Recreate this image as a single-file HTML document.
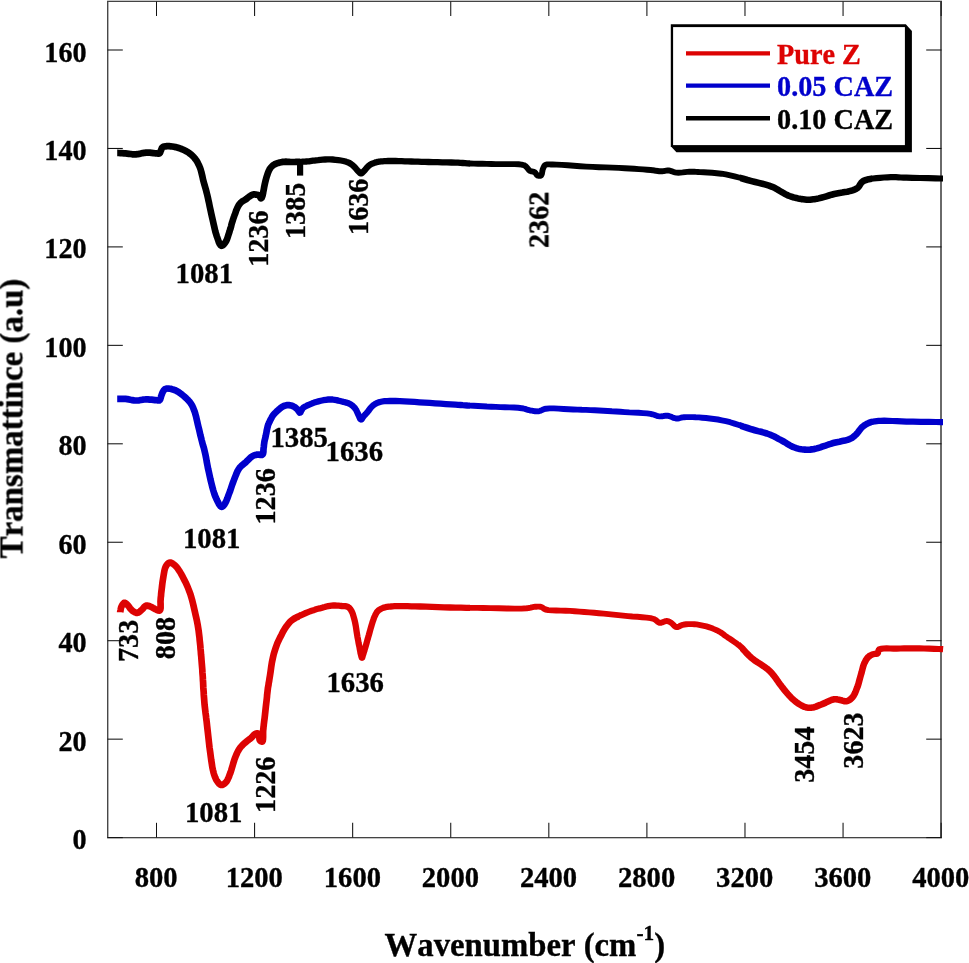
<!DOCTYPE html>
<html><head><meta charset="utf-8"><title>FTIR</title>
<style>html,body{margin:0;padding:0;background:#fff;}body{width:969px;height:963px;position:relative;overflow:hidden;font-family:"Liberation Serif",serif;}</style>
</head><body>
<svg width="969" height="963" viewBox="0 0 969 963" style="position:absolute;left:0;top:0">
<rect width="969" height="963" fill="#fff"/>
<g shape-rendering="crispEdges">
<rect x="107" y="0" width="1" height="838" fill="#484848"/><rect x="108" y="0" width="1" height="838" fill="#b4b4b4"/>
<rect x="940" y="0" width="2" height="838" fill="#6a6a6a"/>
<rect x="107" y="837" width="835" height="1" fill="#444"/><rect x="107" y="838" width="835" height="1" fill="#c4c4c4"/>
<rect x="107" y="0" width="835" height="1" fill="#c6c6c6"/><rect x="107" y="1" width="835" height="1" fill="#444"/>
</g>
<g stroke="#111" stroke-width="1.05">
<path d="M156.50 837.5 V822.8"/>
<path d="M156.50 1.5 V16"/>
<path d="M254.58 837.5 V822.8"/>
<path d="M254.58 1.5 V16"/>
<path d="M352.66 837.5 V822.8"/>
<path d="M352.66 1.5 V16"/>
<path d="M450.74 837.5 V822.8"/>
<path d="M450.74 1.5 V16"/>
<path d="M548.82 837.5 V822.8"/>
<path d="M548.82 1.5 V16"/>
<path d="M646.90 837.5 V822.8"/>
<path d="M646.90 1.5 V16"/>
<path d="M744.98 837.5 V822.8"/>
<path d="M744.98 1.5 V16"/>
<path d="M843.06 837.5 V822.8"/>
<path d="M843.06 1.5 V16"/>
<path d="M941.14 837.5 V822.8"/>
<path d="M941.14 1.5 V16"/>
<path d="M107.5 837.60 H122.8"/>
<path d="M941.5 837.60 H926.2"/>
<path d="M107.5 739.15 H122.8"/>
<path d="M941.5 739.15 H926.2"/>
<path d="M107.5 640.70 H122.8"/>
<path d="M941.5 640.70 H926.2"/>
<path d="M107.5 542.25 H122.8"/>
<path d="M941.5 542.25 H926.2"/>
<path d="M107.5 443.80 H122.8"/>
<path d="M941.5 443.80 H926.2"/>
<path d="M107.5 345.35 H122.8"/>
<path d="M941.5 345.35 H926.2"/>
<path d="M107.5 246.90 H122.8"/>
<path d="M941.5 246.90 H926.2"/>
<path d="M107.5 148.45 H122.8"/>
<path d="M941.5 148.45 H926.2"/>
<path d="M107.5 50.00 H122.8"/>
<path d="M941.5 50.00 H926.2"/>
</g>
<defs><clipPath id="c0"><rect x="0" y="0" width="300" height="963"/></clipPath><clipPath id="c1"><rect x="300" y="0" width="170" height="963"/></clipPath><clipPath id="c2"><rect x="470" y="0" width="270" height="963"/></clipPath><clipPath id="c3"><rect x="740" y="0" width="132" height="963"/></clipPath><clipPath id="c4"><rect x="872" y="0" width="97" height="963"/></clipPath></defs>
<defs><path id="cv0" d="M120.2 612.2 L120.2 611.9 L120.4 611.1 L120.6 610.0 L120.8 608.7 L121.1 607.5 L121.5 606.5 L121.9 605.7 L122.3 604.9 L122.9 604.2 L123.4 603.5 L123.9 603.0 L124.5 602.8 L125.1 602.9 L125.7 603.2 L126.3 603.7 L126.9 604.3 L127.5 604.9 L128.0 605.5 L128.5 606.1 L129.0 606.7 L129.4 607.4 L129.9 608.0 L130.3 608.6 L130.8 609.2 L131.3 609.7 L131.8 610.2 L132.3 610.7 L132.9 611.1 L133.4 611.5 L134.0 611.8 L134.6 612.1 L135.1 612.4 L135.7 612.6 L136.3 612.8 L136.9 612.8 L137.5 612.8 L138.2 612.6 L138.8 612.2 L139.5 611.7 L140.2 611.2 L140.8 610.6 L141.5 610.0 L142.3 609.3 L143.1 608.4 L143.8 607.5 L144.6 606.6 L145.4 606.0 L146.3 605.6 L147.1 605.5 L148.0 605.7 L148.9 606.0 L149.8 606.3 L150.7 606.7 L151.5 607.1 L152.3 607.5 L153.0 607.9 L153.8 608.3 L154.5 608.8 L155.3 609.2 L156.0 609.5 L156.7 609.8 L157.4 610.1 L158.1 610.4 L158.7 610.5 L159.3 610.6 L159.8 610.4 L160.3 609.5 L160.6 608.0 L160.6 606.1 L160.6 603.9 L160.5 601.8 L160.6 600.0 L160.7 598.6 L160.8 597.2 L161.0 595.9 L161.1 594.5 L161.2 593.1 L161.4 591.5 L161.7 589.1 L162.0 586.5 L162.3 583.8 L162.7 581.0 L163.1 578.4 L163.5 576.0 L163.8 574.2 L164.1 572.5 L164.4 570.8 L164.8 569.2 L165.2 567.8 L165.8 566.5 L166.3 565.6 L166.9 564.7 L167.6 563.9 L168.3 563.3 L169.0 562.8 L169.7 562.5 L170.3 562.5 L170.9 562.7 L171.6 563.0 L172.2 563.3 L172.9 563.8 L173.5 564.2 L174.2 564.7 L174.9 565.3 L175.5 565.9 L176.2 566.6 L176.8 567.3 L177.5 568.2 L178.6 569.8 L179.8 571.6 L181.0 573.6 L182.2 575.8 L183.3 578.0 L184.4 580.1 L185.5 582.2 L186.5 584.4 L187.5 586.6 L188.4 588.9 L189.3 591.2 L190.2 593.6 L191.1 596.5 L192.0 599.6 L192.8 602.8 L193.6 606.1 L194.3 609.2 L195.0 612.3 L195.6 615.0 L196.2 617.6 L196.8 620.2 L197.3 622.8 L197.8 625.4 L198.2 628.0 L198.6 630.5 L198.9 633.0 L199.2 635.5 L199.5 637.9 L199.7 640.4 L200.0 643.0 L200.3 645.8 L200.5 648.6 L200.8 651.5 L201.0 654.4 L201.3 657.2 L201.5 660.0 L201.7 662.5 L201.9 664.9 L202.1 667.3 L202.3 669.7 L202.4 672.2 L202.6 674.6 L202.8 677.1 L202.9 679.7 L203.1 682.3 L203.2 684.9 L203.3 687.4 L203.5 690.0 L203.7 692.5 L203.8 695.0 L204.0 697.4 L204.2 699.9 L204.4 702.4 L204.6 704.9 L204.9 707.5 L205.2 710.1 L205.5 712.7 L205.9 715.4 L206.2 718.2 L206.6 721.2 L207.1 725.9 L207.7 731.1 L208.3 736.5 L208.9 742.0 L209.5 747.4 L210.2 752.3 L210.7 756.1 L211.2 759.9 L211.8 763.6 L212.3 767.1 L213.0 770.3 L213.7 773.1 L214.2 774.8 L214.7 776.3 L215.3 777.7 L215.9 779.0 L216.5 780.2 L217.2 781.3 L217.8 782.1 L218.4 782.9 L219.1 783.7 L219.8 784.3 L220.5 784.8 L221.2 785.0 L222.0 785.0 L222.8 784.7 L223.6 784.2 L224.5 783.6 L225.3 782.9 L226.0 782.2 L226.9 781.1 L227.6 779.7 L228.3 778.2 L229.0 776.6 L229.6 774.8 L230.3 773.1 L231.1 770.7 L231.9 768.1 L232.7 765.3 L233.5 762.5 L234.3 759.9 L235.2 757.5 L235.9 755.8 L236.6 754.1 L237.3 752.5 L238.1 751.0 L238.9 749.6 L239.8 748.2 L240.7 747.0 L241.8 745.9 L242.8 744.8 L243.9 743.8 L245.0 742.8 L246.1 741.9 L247.0 741.1 L247.9 740.4 L248.8 739.8 L249.6 739.1 L250.5 738.5 L251.3 737.8 L252.0 737.1 L252.7 736.3 L253.4 735.5 L254.0 734.8 L254.7 734.2 L255.4 733.8 L255.9 733.6 L256.5 733.5 L257.1 733.4 L257.6 733.4 L258.1 733.6 L258.5 733.8 L258.9 734.5 L259.2 735.7 L259.3 737.0 L259.4 738.4 L259.6 739.7 L260.0 740.5 L260.3 740.8 L260.7 741.2 L261.2 741.4 L261.6 741.6 L262.0 741.6 L262.3 741.5 L262.8 740.6 L263.0 739.0 L263.1 736.8 L263.1 734.4 L263.1 732.0 L263.2 730.0 L263.4 728.5 L263.5 727.1 L263.7 725.8 L263.8 724.4 L264.0 722.9 L264.2 721.2 L264.6 718.2 L265.0 714.7 L265.4 710.9 L265.8 707.1 L266.2 703.6 L266.6 700.4 L266.8 698.5 L267.0 696.7 L267.1 695.0 L267.3 693.4 L267.5 691.7 L267.7 690.0 L267.9 688.2 L268.2 686.5 L268.5 684.8 L268.7 683.1 L269.1 681.2 L269.4 679.1 L270.0 675.5 L270.6 671.4 L271.2 667.0 L271.9 662.5 L272.8 658.2 L273.7 654.3 L274.6 651.3 L275.5 648.4 L276.5 645.6 L277.5 642.9 L278.7 640.3 L280.0 637.6 L281.5 634.8 L283.0 631.8 L284.7 628.9 L286.5 626.2 L288.4 623.7 L290.3 621.6 L291.9 620.2 L293.6 619.0 L295.3 618.0 L297.1 617.1 L298.8 616.3 L300.6 615.4 L302.3 614.6 L304.0 613.8 L305.8 613.0 L307.5 612.3 L309.3 611.6 L311.0 611.0 L312.7 610.4 L314.4 609.9 L316.1 609.3 L317.9 608.8 L319.6 608.4 L321.3 607.9 L323.0 607.4 L324.7 607.0 L326.4 606.5 L328.2 606.1 L329.9 605.8 L331.6 605.6 L333.3 605.5 L335.1 605.5 L336.9 605.6 L338.7 605.7 L340.3 605.8 L341.9 606.0 L343.1 606.1 L344.2 606.2 L345.3 606.2 L346.3 606.4 L347.2 606.6 L348.1 607.0 L348.8 607.5 L349.4 608.0 L350.0 608.7 L350.5 609.4 L351.0 610.2 L351.5 611.0 L352.2 612.4 L352.8 613.9 L353.3 615.6 L353.8 617.4 L354.3 619.2 L354.8 621.1 L355.3 623.5 L355.8 626.1 L356.2 628.8 L356.6 631.5 L357.0 634.1 L357.4 636.6 L357.8 638.6 L358.2 640.6 L358.5 642.6 L358.9 644.5 L359.3 646.3 L359.6 648.0 L359.8 649.3 L360.1 650.6 L360.3 651.8 L360.5 653.0 L360.8 654.0 L361.0 655.0 L361.2 655.6 L361.3 656.2 L361.5 656.8 L361.7 657.3 L361.8 657.7 L362.0 657.8 L362.2 657.7 L362.3 657.3 L362.5 656.8 L362.6 656.2 L362.8 655.6 L363.0 655.0 L363.3 654.1 L363.6 653.1 L363.9 652.0 L364.3 650.9 L364.6 649.7 L365.0 648.5 L365.5 646.9 L366.0 645.2 L366.5 643.4 L367.0 641.5 L367.5 639.7 L368.0 638.0 L368.4 636.5 L368.9 634.9 L369.3 633.4 L369.7 631.9 L370.1 630.5 L370.5 629.0 L370.9 627.6 L371.3 626.3 L371.7 624.9 L372.1 623.6 L372.5 622.3 L372.9 621.1 L373.3 620.0 L373.7 618.9 L374.0 617.9 L374.4 616.9 L374.9 615.9 L375.3 615.0 L375.7 614.2 L376.1 613.5 L376.5 612.8 L376.9 612.1 L377.4 611.5 L378.0 610.9 L378.8 610.2 L379.7 609.6 L380.7 609.0 L381.7 608.5 L382.8 608.0 L384.0 607.6 L385.5 607.2 L387.1 606.9 L388.8 606.6 L390.6 606.5 L392.5 606.3 L394.5 606.2 L397.5 606.1 L400.7 606.1 L404.0 606.1 L407.6 606.2 L411.3 606.3 L415.1 606.4 L420.4 606.5 L426.1 606.7 L432.0 606.9 L438.1 607.1 L444.1 607.3 L450.0 607.5 L455.5 607.6 L461.0 607.7 L466.4 607.8 L471.9 607.9 L477.5 607.9 L483.3 608.0 L490.6 608.1 L498.7 608.3 L506.9 608.5 L514.7 608.6 L521.5 608.6 L526.7 608.3 L528.3 608.1 L529.6 607.8 L530.7 607.6 L531.7 607.3 L532.8 607.1 L533.9 606.9 L535.1 606.8 L536.4 606.7 L537.6 606.6 L538.9 606.6 L540.0 606.7 L541.1 606.9 L541.9 607.2 L542.5 607.6 L543.1 608.1 L543.8 608.6 L544.5 609.1 L545.5 609.5 L548.4 610.1 L552.1 610.4 L556.3 610.5 L560.9 610.6 L565.6 610.7 L570.0 610.9 L574.7 611.2 L579.5 611.6 L584.3 612.0 L589.2 612.4 L594.1 612.8 L598.9 613.2 L603.7 613.6 L608.6 614.1 L613.4 614.6 L618.3 615.1 L623.1 615.6 L627.8 616.1 L632.4 616.5 L637.3 616.8 L642.1 617.2 L646.6 617.6 L650.6 618.2 L653.8 619.0 L655.1 619.6 L656.1 620.4 L657.0 621.1 L657.8 621.9 L658.6 622.5 L659.6 622.8 L660.8 622.8 L662.0 622.5 L663.2 622.0 L664.5 621.5 L665.7 621.1 L666.8 621.0 L667.6 621.1 L668.4 621.3 L669.1 621.6 L669.8 622.0 L670.5 622.4 L671.2 622.8 L672.1 623.5 L672.9 624.3 L673.7 625.2 L674.6 626.1 L675.5 626.7 L676.4 627.1 L677.4 627.1 L678.3 626.8 L679.3 626.3 L680.4 625.7 L681.5 625.2 L682.7 624.8 L684.4 624.5 L686.2 624.3 L688.2 624.1 L690.2 624.1 L692.3 624.1 L694.3 624.2 L696.6 624.4 L699.1 624.8 L701.5 625.3 L704.0 625.8 L706.4 626.4 L708.7 627.1 L710.7 627.8 L712.8 628.6 L714.7 629.4 L716.6 630.2 L718.4 631.1 L720.0 632.0 L721.1 632.6 L722.0 633.3 L722.9 633.9 L723.8 634.6 L724.7 635.3 L725.8 636.1 L727.7 637.4 L729.8 638.7 L732.0 640.2 L734.3 641.8 L736.5 643.4 L738.7 645.1 L740.9 647.1 L743.0 649.2 L745.0 651.4 L747.1 653.7 L749.3 655.9 L751.6 658.0 L754.4 660.2 L757.5 662.3 L760.7 664.3 L763.9 666.4 L766.9 668.6 L769.7 671.0 L772.1 673.6 L774.4 676.4 L776.5 679.3 L778.5 682.2 L780.6 685.1 L782.6 687.7 L784.3 689.8 L786.0 691.9 L787.7 693.9 L789.4 695.8 L791.1 697.6 L792.9 699.3 L794.6 700.7 L796.3 702.1 L798.0 703.4 L799.8 704.5 L801.5 705.5 L803.2 706.3 L804.5 706.8 L805.8 707.2 L807.0 707.5 L808.3 707.7 L809.6 707.8 L810.9 707.8 L812.5 707.6 L814.2 707.2 L816.0 706.6 L817.7 705.9 L819.5 705.2 L821.3 704.5 L823.4 703.6 L825.7 702.6 L828.0 701.5 L830.2 700.5 L832.3 699.7 L834.2 699.3 L835.3 699.2 L836.3 699.3 L837.2 699.4 L838.1 699.6 L839.0 699.8 L840.0 700.0 L841.1 700.2 L842.3 700.6 L843.4 700.9 L844.6 701.2 L845.7 701.3 L846.8 701.2 L847.8 700.9 L848.8 700.4 L849.8 699.7 L850.8 699.0 L851.7 698.1 L852.5 697.2 L853.4 696.0 L854.2 694.6 L855.0 693.1 L855.7 691.5 L856.3 689.8 L857.0 688.1 L857.8 686.0 L858.5 683.8 L859.1 681.4 L859.7 679.1 L860.4 676.7 L861.0 674.5 L861.6 672.5 L862.1 670.5 L862.6 668.5 L863.1 666.6 L863.7 664.8 L864.4 663.1 L865.0 661.9 L865.6 660.7 L866.2 659.6 L866.9 658.6 L867.6 657.7 L868.4 656.9 L869.2 656.2 L870.2 655.6 L871.2 655.1 L872.1 654.7 L873.1 654.3 L874.0 654.0 L874.6 653.9 L875.3 653.9 L875.9 653.9 L876.5 653.9 L877.0 653.8 L877.5 653.6 L877.9 653.1 L878.1 652.4 L878.2 651.6 L878.4 650.8 L878.7 650.1 L879.2 649.5 L881.0 648.8 L883.6 648.5 L886.7 648.4 L890.1 648.5 L893.5 648.6 L896.8 648.6 L900.4 648.5 L904.1 648.4 L907.9 648.4 L911.8 648.4 L915.7 648.4 L919.5 648.4 L924.0 648.5 L929.1 648.7 L934.2 648.8 L938.7 649.0 L941.9 649.1 L943.1 649.2"/></defs>
<g fill="none" stroke="#dd0303" stroke-linejoin="round" stroke-linecap="butt">
<use href="#cv0" stroke-width="6.7" clip-path="url(#c0)"/>
<use href="#cv0" stroke-width="6.3" clip-path="url(#c1)"/>
<use href="#cv0" stroke-width="5.9" clip-path="url(#c2)"/>
<use href="#cv0" stroke-width="6.6" clip-path="url(#c3)"/>
<use href="#cv0" stroke-width="6.2" clip-path="url(#c4)"/>
</g>
<defs><path id="cv1" d="M117.2 398.9 L117.6 398.9 L118.7 398.9 L120.3 398.8 L122.1 398.8 L123.9 398.8 L125.5 398.9 L127.2 399.1 L128.9 399.4 L130.6 399.8 L132.3 400.1 L134.1 400.4 L135.8 400.5 L137.5 400.5 L139.2 400.3 L140.9 400.0 L142.7 399.7 L144.4 399.5 L146.1 399.4 L147.9 399.4 L149.7 399.6 L151.6 399.7 L153.4 399.9 L155.0 400.1 L156.4 400.2 L157.1 400.3 L157.7 400.3 L158.2 400.4 L158.7 400.5 L159.2 400.4 L159.6 400.2 L160.0 399.8 L160.3 399.1 L160.5 398.4 L160.8 397.6 L161.0 396.7 L161.2 396.0 L161.5 395.3 L161.7 394.6 L162.0 393.9 L162.2 393.3 L162.5 392.6 L162.8 392.0 L163.1 391.5 L163.4 391.0 L163.7 390.5 L164.0 390.0 L164.4 389.6 L164.8 389.3 L165.2 389.0 L165.7 388.9 L166.2 388.7 L166.7 388.6 L167.3 388.5 L167.8 388.5 L168.5 388.5 L169.1 388.6 L169.8 388.7 L170.6 388.8 L171.3 389.0 L172.0 389.2 L172.8 389.4 L173.7 389.7 L174.5 390.0 L175.4 390.3 L176.2 390.7 L177.1 391.2 L178.3 391.9 L179.5 392.7 L180.7 393.6 L181.9 394.5 L183.1 395.5 L184.3 396.5 L185.4 397.5 L186.5 398.5 L187.6 399.6 L188.6 400.7 L189.6 401.8 L190.5 403.0 L191.3 404.3 L192.1 405.6 L192.8 407.0 L193.4 408.4 L194.0 409.9 L194.6 411.5 L195.3 413.8 L196.0 416.3 L196.6 418.9 L197.2 421.6 L197.8 424.3 L198.4 426.8 L199.0 429.1 L199.5 431.3 L200.0 433.5 L200.5 435.7 L201.1 437.9 L201.6 440.0 L202.1 441.9 L202.6 443.8 L203.1 445.6 L203.7 447.4 L204.2 449.4 L204.7 451.5 L205.4 454.6 L206.1 458.0 L206.7 461.5 L207.4 465.1 L208.1 468.8 L208.9 472.3 L209.7 475.9 L210.5 479.6 L211.4 483.3 L212.3 486.8 L213.2 490.1 L214.1 493.1 L214.7 494.9 L215.4 496.6 L216.1 498.2 L216.7 499.6 L217.4 501.0 L218.0 502.2 L218.4 502.9 L218.7 503.6 L219.1 504.3 L219.5 504.9 L219.8 505.4 L220.2 505.8 L220.4 506.1 L220.7 506.3 L220.9 506.5 L221.2 506.7 L221.4 506.8 L221.7 506.8 L222.0 506.8 L222.2 506.7 L222.5 506.5 L222.8 506.3 L223.0 506.0 L223.3 505.8 L223.7 505.4 L224.1 504.9 L224.5 504.4 L224.8 503.8 L225.2 503.2 L225.6 502.5 L226.2 501.3 L226.8 499.8 L227.4 498.3 L228.0 496.6 L228.6 494.9 L229.3 493.1 L230.2 490.7 L231.1 488.0 L232.0 485.3 L233.0 482.5 L234.0 479.9 L234.9 477.5 L235.6 475.8 L236.3 474.1 L236.9 472.5 L237.6 471.0 L238.4 469.6 L239.3 468.2 L240.3 467.0 L241.4 465.9 L242.6 464.9 L243.8 463.9 L245.0 462.9 L246.1 461.9 L247.1 460.9 L248.2 459.8 L249.2 458.8 L250.2 457.8 L251.3 456.9 L252.3 456.2 L253.2 455.8 L254.0 455.4 L254.9 455.1 L255.8 454.9 L256.6 454.7 L257.5 454.6 L258.4 454.6 L259.3 454.7 L260.2 454.8 L261.1 454.9 L261.9 454.9 L262.5 454.6 L263.0 453.9 L263.2 452.9 L263.4 451.7 L263.4 450.5 L263.5 449.2 L263.6 448.0 L263.8 446.9 L263.9 445.7 L264.0 444.5 L264.2 443.4 L264.3 442.3 L264.5 441.2 L264.7 440.3 L264.9 439.5 L265.1 438.7 L265.3 437.9 L265.5 437.0 L265.7 436.1 L266.0 434.5 L266.4 432.7 L266.7 430.8 L267.1 428.9 L267.5 427.2 L267.9 425.6 L268.2 424.6 L268.6 423.8 L268.9 423.0 L269.3 422.2 L269.7 421.4 L270.1 420.6 L270.5 419.7 L271.0 418.8 L271.5 417.9 L271.9 417.0 L272.5 416.1 L273.1 415.2 L273.8 414.3 L274.7 413.4 L275.6 412.5 L276.5 411.6 L277.4 410.8 L278.3 410.0 L279.1 409.3 L279.8 408.6 L280.6 408.0 L281.4 407.4 L282.2 406.9 L283.0 406.4 L283.8 406.0 L284.7 405.7 L285.6 405.5 L286.5 405.3 L287.4 405.1 L288.3 405.1 L289.1 405.1 L289.9 405.2 L290.7 405.4 L291.5 405.6 L292.3 405.9 L293.0 406.2 L293.6 406.5 L294.3 406.8 L294.9 407.2 L295.4 407.6 L296.0 408.1 L296.5 408.5 L297.0 409.0 L297.4 409.5 L297.9 410.0 L298.3 410.6 L298.6 411.1 L299.0 411.5 L299.2 411.8 L299.4 412.0 L299.6 412.3 L299.8 412.5 L299.9 412.7 L300.1 412.7 L300.3 412.6 L300.5 412.4 L300.6 412.1 L300.8 411.7 L301.0 411.3 L301.2 411.0 L301.5 410.5 L301.7 410.0 L302.0 409.5 L302.3 408.9 L302.6 408.4 L303.0 408.0 L303.4 407.6 L303.8 407.3 L304.2 407.1 L304.7 406.8 L305.2 406.5 L305.8 406.2 L307.1 405.5 L308.7 404.8 L310.4 404.1 L312.3 403.3 L314.2 402.6 L316.1 402.0 L318.4 401.4 L320.8 400.8 L323.3 400.2 L325.8 399.8 L328.3 399.5 L330.6 399.4 L332.6 399.5 L334.5 399.8 L336.5 400.1 L338.3 400.6 L340.1 401.0 L341.9 401.5 L343.4 401.9 L344.9 402.2 L346.3 402.6 L347.7 403.0 L349.0 403.5 L350.2 404.1 L351.2 404.7 L352.1 405.4 L353.0 406.2 L353.8 407.0 L354.6 407.8 L355.3 408.7 L356.0 409.7 L356.5 410.7 L357.0 411.8 L357.5 412.9 L358.0 414.0 L358.5 415.0 L358.9 415.9 L359.3 416.9 L359.7 417.8 L360.1 418.7 L360.6 419.3 L361.0 419.5 L361.4 419.4 L361.8 419.0 L362.2 418.4 L362.6 417.8 L363.0 417.1 L363.5 416.5 L364.1 415.8 L364.8 415.0 L365.5 414.3 L366.2 413.5 L367.0 412.6 L367.7 411.8 L368.5 410.8 L369.3 409.7 L370.1 408.6 L371.0 407.5 L371.9 406.5 L372.9 405.6 L373.9 404.8 L375.0 404.1 L376.1 403.5 L377.3 402.9 L378.6 402.4 L380.0 402.0 L382.2 401.5 L384.5 401.2 L387.1 401.1 L389.8 401.0 L392.6 401.0 L395.6 401.0 L399.9 401.1 L404.5 401.3 L409.4 401.6 L414.5 401.9 L419.5 402.3 L424.5 402.6 L429.7 402.9 L435.1 403.3 L440.6 403.7 L445.9 404.1 L450.9 404.4 L455.4 404.7 L458.1 404.9 L460.5 405.0 L462.8 405.2 L465.0 405.3 L467.4 405.5 L470.0 405.6 L473.9 405.8 L478.1 406.0 L482.4 406.2 L486.9 406.5 L491.4 406.7 L495.8 406.9 L500.3 407.1 L504.9 407.2 L509.5 407.4 L514.0 407.5 L518.1 407.8 L521.6 408.2 L523.4 408.5 L525.0 408.9 L526.4 409.4 L527.8 409.8 L529.2 410.2 L530.6 410.5 L531.9 410.7 L533.2 411.0 L534.5 411.2 L535.8 411.3 L537.1 411.4 L538.4 411.3 L539.6 411.0 L540.8 410.6 L541.9 410.1 L543.2 409.5 L544.5 409.0 L546.1 408.7 L549.6 408.4 L553.9 408.4 L558.6 408.6 L563.6 409.0 L568.5 409.3 L573.2 409.5 L577.5 409.6 L581.8 409.8 L586.1 409.9 L590.4 410.1 L594.7 410.3 L599.0 410.5 L603.3 410.7 L607.6 411.0 L611.9 411.3 L616.2 411.5 L620.5 411.8 L624.8 412.1 L629.3 412.4 L633.9 412.6 L638.5 412.8 L643.0 413.1 L647.1 413.4 L650.6 413.9 L652.4 414.3 L654.0 414.8 L655.4 415.3 L656.8 415.8 L658.2 416.2 L659.6 416.4 L660.9 416.4 L662.2 416.3 L663.5 416.0 L664.8 415.8 L666.1 415.7 L667.4 415.7 L668.9 416.0 L670.4 416.5 L671.9 417.1 L673.4 417.8 L674.9 418.2 L676.4 418.5 L677.7 418.5 L678.9 418.3 L680.1 418.0 L681.3 417.7 L682.6 417.4 L684.1 417.2 L686.6 417.1 L689.5 417.1 L692.5 417.1 L695.7 417.3 L699.0 417.4 L702.2 417.7 L706.0 418.0 L709.8 418.5 L713.8 419.0 L717.8 419.5 L721.8 420.3 L725.8 421.1 L730.1 422.2 L734.5 423.6 L738.9 425.0 L743.3 426.6 L747.6 428.0 L751.6 429.3 L754.8 430.2 L758.0 431.1 L761.1 431.8 L764.0 432.6 L766.9 433.5 L769.7 434.5 L772.0 435.5 L774.3 436.5 L776.4 437.6 L778.5 438.8 L780.6 439.9 L782.6 441.0 L784.4 442.0 L786.1 443.1 L787.8 444.2 L789.5 445.2 L791.2 446.1 L792.9 446.9 L794.6 447.5 L796.3 448.1 L798.0 448.6 L799.7 449.0 L801.5 449.3 L803.2 449.5 L804.9 449.6 L806.6 449.7 L808.4 449.7 L810.1 449.6 L811.8 449.4 L813.5 449.2 L815.2 448.8 L816.9 448.4 L818.7 447.8 L820.4 447.3 L822.1 446.7 L823.8 446.1 L825.5 445.6 L827.2 445.0 L828.9 444.4 L830.6 443.9 L832.3 443.3 L834.2 442.8 L836.7 442.2 L839.4 441.7 L842.2 441.1 L844.9 440.6 L847.4 439.9 L849.6 439.1 L850.9 438.5 L852.1 437.8 L853.1 437.0 L854.1 436.3 L855.1 435.4 L856.1 434.5 L857.2 433.3 L858.2 432.0 L859.2 430.6 L860.3 429.2 L861.3 427.9 L862.5 426.8 L863.7 425.9 L864.9 425.0 L866.2 424.2 L867.5 423.6 L868.9 422.9 L870.3 422.4 L871.8 421.9 L873.4 421.6 L875.0 421.3 L876.7 421.1 L878.6 420.9 L880.6 420.8 L884.2 420.7 L888.2 420.8 L892.5 421.0 L897.0 421.2 L901.7 421.4 L906.4 421.6 L913.0 421.7 L920.8 421.8 L928.9 421.9 L936.0 422.0 L941.1 422.1 L943.0 422.1"/></defs>
<g fill="none" stroke="#0000cc" stroke-linejoin="round" stroke-linecap="butt">
<use href="#cv1" stroke-width="6.7" clip-path="url(#c0)"/>
<use href="#cv1" stroke-width="6.3" clip-path="url(#c1)"/>
<use href="#cv1" stroke-width="5.9" clip-path="url(#c2)"/>
<use href="#cv1" stroke-width="6.6" clip-path="url(#c3)"/>
<use href="#cv1" stroke-width="6.2" clip-path="url(#c4)"/>
</g>
<defs><path id="cv2" d="M117.2 152.9 L117.6 152.9 L118.7 153.0 L120.3 153.1 L122.1 153.2 L123.9 153.3 L125.5 153.4 L127.2 153.6 L128.9 153.8 L130.6 154.0 L132.3 154.3 L134.1 154.4 L135.8 154.4 L137.5 154.2 L139.2 153.9 L140.9 153.5 L142.7 153.1 L144.4 152.8 L146.1 152.6 L147.9 152.6 L149.8 152.7 L151.6 152.9 L153.4 153.1 L155.0 153.3 L156.4 153.4 L157.0 153.5 L157.6 153.5 L158.2 153.6 L158.6 153.6 L159.1 153.6 L159.5 153.4 L159.9 153.0 L160.2 152.5 L160.4 151.9 L160.6 151.2 L160.9 150.6 L161.1 150.0 L161.3 149.5 L161.5 149.0 L161.7 148.5 L161.9 148.0 L162.2 147.6 L162.6 147.2 L163.2 146.8 L164.0 146.6 L164.9 146.4 L165.8 146.3 L166.8 146.2 L167.8 146.2 L169.2 146.2 L170.7 146.3 L172.3 146.5 L173.9 146.8 L175.5 147.1 L177.1 147.5 L178.8 148.0 L180.6 148.6 L182.4 149.4 L184.2 150.1 L185.8 151.0 L187.4 151.9 L188.8 152.8 L190.0 153.7 L191.3 154.7 L192.4 155.8 L193.6 156.9 L194.6 158.1 L195.6 159.4 L196.6 160.8 L197.5 162.3 L198.3 163.9 L199.1 165.5 L199.8 167.2 L200.6 169.4 L201.3 171.9 L201.9 174.4 L202.5 176.9 L203.0 179.4 L203.6 181.6 L204.0 183.1 L204.4 184.5 L204.8 185.9 L205.2 187.2 L205.6 188.6 L206.0 190.0 L206.4 191.6 L206.8 193.2 L207.2 194.8 L207.6 196.5 L208.0 198.3 L208.4 200.2 L209.1 203.3 L209.8 206.8 L210.6 210.4 L211.4 214.2 L212.2 217.8 L213.0 221.2 L213.6 223.9 L214.2 226.6 L214.8 229.2 L215.4 231.7 L216.1 234.0 L216.8 236.3 L217.5 238.2 L218.2 240.3 L218.9 242.3 L219.7 244.0 L220.5 245.2 L221.4 245.8 L222.1 245.7 L222.8 245.3 L223.5 244.7 L224.3 243.8 L225.0 242.9 L225.6 242.0 L226.4 240.6 L227.1 239.0 L227.7 237.2 L228.3 235.3 L228.9 233.4 L229.5 231.6 L230.0 229.9 L230.6 228.1 L231.1 226.3 L231.5 224.5 L232.0 222.8 L232.5 221.2 L232.9 219.9 L233.3 218.7 L233.7 217.5 L234.1 216.4 L234.5 215.2 L235.0 214.0 L235.5 212.6 L236.0 211.1 L236.6 209.6 L237.2 208.2 L237.8 206.9 L238.4 205.7 L238.9 205.0 L239.4 204.3 L239.9 203.6 L240.4 203.1 L240.9 202.5 L241.5 202.0 L242.1 201.5 L242.8 201.1 L243.5 200.7 L244.2 200.3 L244.9 199.9 L245.6 199.5 L246.2 199.1 L246.8 198.6 L247.3 198.1 L247.9 197.7 L248.4 197.2 L249.0 196.8 L249.6 196.4 L250.3 195.9 L250.9 195.5 L251.6 195.1 L252.3 194.8 L252.9 194.6 L253.4 194.5 L253.9 194.4 L254.5 194.4 L255.0 194.5 L255.5 194.5 L256.0 194.6 L256.5 194.7 L257.1 194.8 L257.6 194.9 L258.2 195.1 L258.6 195.3 L259.1 195.6 L259.5 196.0 L259.9 196.6 L260.2 197.2 L260.5 197.8 L260.8 198.2 L261.1 198.3 L261.3 198.2 L261.6 197.9 L261.8 197.5 L262.0 197.0 L262.2 196.5 L262.4 196.0 L262.6 195.3 L262.8 194.6 L262.9 193.9 L263.1 193.1 L263.2 192.2 L263.4 191.3 L263.7 189.8 L264.0 188.2 L264.3 186.4 L264.7 184.6 L265.1 182.8 L265.5 181.0 L266.0 179.2 L266.5 177.3 L267.1 175.4 L267.7 173.6 L268.3 172.0 L268.9 170.6 L269.3 169.9 L269.7 169.2 L270.0 168.6 L270.4 168.0 L270.8 167.5 L271.3 167.0 L271.8 166.5 L272.2 166.0 L272.7 165.6 L273.2 165.2 L273.8 164.8 L274.5 164.4 L275.6 163.9 L276.9 163.4 L278.3 162.9 L279.8 162.5 L281.3 162.2 L282.8 161.9 L284.3 161.8 L285.9 161.7 L287.5 161.8 L289.0 161.9 L290.6 162.0 L292.1 162.0 L293.5 162.0 L294.8 162.0 L296.1 161.9 L297.4 161.9 L298.7 161.8 L300.0 161.8 L301.3 161.8 L302.5 161.7 L303.8 161.6 L305.0 161.6 L306.3 161.5 L307.6 161.4 L309.0 161.3 L310.3 161.1 L311.6 160.9 L313.0 160.7 L314.5 160.6 L316.0 160.4 L318.1 160.2 L320.4 159.9 L322.7 159.7 L325.2 159.5 L327.6 159.4 L330.0 159.4 L332.6 159.5 L335.4 159.8 L338.2 160.1 L340.9 160.5 L343.4 161.0 L345.5 161.5 L346.6 161.9 L347.6 162.2 L348.5 162.6 L349.4 163.0 L350.2 163.5 L351.0 164.0 L351.7 164.5 L352.4 165.0 L353.0 165.6 L353.6 166.1 L354.2 166.7 L354.8 167.3 L355.4 167.9 L355.9 168.5 L356.4 169.2 L356.9 169.8 L357.5 170.4 L358.0 171.0 L358.5 171.5 L359.0 172.0 L359.5 172.6 L360.0 173.0 L360.5 173.3 L361.0 173.4 L361.5 173.3 L362.0 173.0 L362.5 172.5 L363.0 172.0 L363.5 171.5 L364.0 171.0 L364.5 170.5 L365.0 169.9 L365.5 169.3 L366.0 168.7 L366.5 168.1 L367.0 167.5 L367.5 167.0 L368.0 166.5 L368.5 166.0 L369.0 165.5 L369.6 165.1 L370.2 164.7 L370.9 164.3 L371.7 163.9 L372.5 163.5 L373.4 163.2 L374.2 162.9 L375.0 162.6 L375.7 162.4 L376.4 162.2 L377.1 162.0 L377.9 161.9 L378.6 161.7 L379.5 161.6 L381.0 161.4 L382.6 161.3 L384.3 161.2 L386.1 161.1 L388.0 161.0 L390.0 161.0 L392.7 161.0 L395.6 161.0 L398.6 161.1 L401.7 161.2 L404.9 161.3 L408.0 161.4 L411.3 161.5 L414.7 161.6 L418.0 161.7 L421.5 161.8 L425.0 161.9 L428.6 162.0 L433.0 162.1 L437.6 162.2 L442.3 162.3 L446.9 162.4 L451.4 162.5 L455.4 162.6 L458.0 162.7 L460.4 162.9 L462.7 163.0 L465.0 163.2 L467.4 163.4 L470.0 163.5 L473.9 163.6 L478.1 163.8 L482.4 163.8 L486.9 163.9 L491.4 164.0 L495.8 164.1 L500.4 164.1 L505.3 164.1 L510.1 164.1 L514.7 164.1 L518.6 164.3 L521.6 164.6 L522.5 164.8 L523.2 165.0 L523.8 165.2 L524.4 165.4 L524.9 165.7 L525.5 166.1 L526.2 166.7 L527.0 167.6 L527.7 168.5 L528.4 169.4 L529.1 170.2 L529.9 170.8 L530.6 171.1 L531.4 171.3 L532.2 171.5 L533.0 171.6 L533.8 171.8 L534.5 172.1 L535.1 172.6 L535.6 173.2 L536.1 173.9 L536.6 174.6 L537.0 175.1 L537.6 175.5 L538.1 175.7 L538.7 175.8 L539.4 175.9 L540.0 175.9 L540.5 175.8 L541.0 175.5 L541.5 174.8 L541.9 173.7 L542.1 172.5 L542.4 171.1 L542.6 169.8 L543.0 168.7 L543.3 168.0 L543.6 167.3 L543.9 166.6 L544.3 166.0 L544.7 165.4 L545.3 165.0 L546.2 164.6 L547.2 164.4 L548.3 164.4 L549.6 164.4 L551.0 164.5 L552.6 164.5 L556.7 164.6 L561.9 164.9 L567.7 165.3 L573.9 165.8 L580.1 166.2 L586.1 166.6 L592.5 166.9 L599.1 167.2 L605.8 167.4 L612.4 167.6 L618.8 167.9 L624.8 168.2 L629.5 168.5 L634.2 168.8 L638.8 169.1 L643.1 169.4 L647.0 169.7 L650.6 170.0 L652.6 170.2 L654.4 170.5 L656.1 170.8 L657.7 171.0 L659.3 171.2 L660.9 171.3 L662.3 171.2 L663.6 171.1 L664.9 170.8 L666.2 170.6 L667.4 170.5 L668.7 170.5 L670.0 170.7 L671.2 171.1 L672.4 171.5 L673.7 172.0 L675.0 172.4 L676.4 172.6 L678.4 172.7 L680.5 172.6 L682.7 172.4 L685.0 172.1 L687.2 171.9 L689.3 171.8 L691.1 171.8 L692.8 171.8 L694.4 171.8 L696.1 171.9 L698.0 172.0 L700.0 172.1 L703.7 172.3 L707.8 172.5 L712.2 172.8 L716.8 173.2 L721.4 173.7 L725.8 174.4 L730.2 175.3 L734.5 176.3 L738.9 177.5 L743.2 178.7 L747.5 180.0 L751.6 181.1 L755.2 182.0 L758.8 182.9 L762.3 183.7 L765.7 184.6 L769.0 185.6 L772.2 186.8 L775.0 188.1 L777.7 189.6 L780.3 191.2 L782.8 192.7 L785.3 194.1 L787.7 195.3 L789.5 196.0 L791.2 196.6 L792.9 197.2 L794.6 197.6 L796.3 198.0 L798.0 198.4 L799.7 198.7 L801.5 199.1 L803.2 199.3 L804.9 199.5 L806.7 199.7 L808.4 199.7 L810.1 199.7 L811.8 199.5 L813.4 199.3 L815.1 199.1 L816.9 198.8 L818.7 198.4 L821.1 197.8 L823.6 197.1 L826.3 196.3 L828.9 195.5 L831.6 194.7 L834.2 194.0 L836.8 193.5 L839.5 193.0 L842.2 192.6 L844.9 192.1 L847.3 191.7 L849.6 191.1 L851.1 190.7 L852.5 190.3 L853.8 189.8 L855.1 189.3 L856.3 188.7 L857.4 188.0 L858.4 187.1 L859.2 186.0 L859.9 184.8 L860.7 183.6 L861.5 182.5 L862.5 181.6 L863.6 180.9 L864.8 180.4 L866.0 180.0 L867.3 179.6 L868.7 179.3 L870.3 179.0 L873.2 178.5 L876.5 178.1 L880.2 177.8 L883.9 177.5 L887.5 177.3 L890.9 177.2 L893.5 177.2 L896.0 177.2 L898.4 177.3 L900.8 177.5 L903.5 177.6 L906.4 177.7 L912.4 177.8 L920.2 178.0 L928.3 178.2 L935.6 178.4 L940.9 178.5 L943.0 178.5"/></defs>
<g fill="none" stroke="#000" stroke-linejoin="round" stroke-linecap="butt">
<use href="#cv2" stroke-width="6.7" clip-path="url(#c0)"/>
<use href="#cv2" stroke-width="6.3" clip-path="url(#c1)"/>
<use href="#cv2" stroke-width="5.9" clip-path="url(#c2)"/>
<use href="#cv2" stroke-width="6.6" clip-path="url(#c3)"/>
<use href="#cv2" stroke-width="6.2" clip-path="url(#c4)"/>
</g>
<path d="M300.1 161.5 V175.6" stroke="#000" stroke-width="6.2" fill="none"/>
<path d="M670.8 24.3 H905.8 L911.9 31.1 V152.2 H676.4 L670.8 146.3 Z" fill="#000"/>
<rect x="673.1" y="27.1" width="231.8" height="118" fill="#fff"/>
<path d="M686 53.4 H770" stroke="#dd0303" stroke-width="4.4"/>
<path d="M686 85.6 H770" stroke="#0000cc" stroke-width="4.4"/>
<path d="M686 118.3 H770" stroke="#000" stroke-width="4.4"/>
<g font-family="Liberation Serif, serif" font-weight="bold" fill="#000" stroke="#000" stroke-width="0.35" style="font-kerning:none;opacity:0.999">
<text transform="translate(777.0 63.8) scale(0.985 1)" font-size="28.7" fill="#dd0303" stroke="#dd0303">Pure Z</text>
<text transform="translate(777.0 96.0) scale(0.985 1)" font-size="28.7" fill="#0000cc" stroke="#0000cc">0.05 CAZ</text>
<text transform="translate(777.0 128.7) scale(0.985 1)" font-size="28.7">0.10 CAZ</text>
<text transform="translate(86.6 849.1) scale(0.965 1)" font-size="29.2" text-anchor="end">0</text>
<text transform="translate(86.6 750.6) scale(0.965 1)" font-size="29.2" text-anchor="end">20</text>
<text transform="translate(86.6 652.2) scale(0.965 1)" font-size="29.2" text-anchor="end">40</text>
<text transform="translate(86.6 553.8) scale(0.965 1)" font-size="29.2" text-anchor="end">60</text>
<text transform="translate(86.6 455.3) scale(0.965 1)" font-size="29.2" text-anchor="end">80</text>
<text transform="translate(86.6 356.8) scale(0.965 1)" font-size="29.2" text-anchor="end">100</text>
<text transform="translate(86.6 258.4) scale(0.965 1)" font-size="29.2" text-anchor="end">120</text>
<text transform="translate(86.6 159.9) scale(0.965 1)" font-size="29.2" text-anchor="end">140</text>
<text transform="translate(86.6 61.5) scale(0.965 1)" font-size="29.2" text-anchor="end">160</text>
<text transform="translate(156.2 886.5) scale(0.980 1)" font-size="29.2" text-anchor="middle">800</text>
<text transform="translate(254.3 886.5) scale(0.980 1)" font-size="29.2" text-anchor="middle">1200</text>
<text transform="translate(352.4 886.5) scale(0.980 1)" font-size="29.2" text-anchor="middle">1600</text>
<text transform="translate(450.4 886.5) scale(0.980 1)" font-size="29.2" text-anchor="middle">2000</text>
<text transform="translate(548.5 886.5) scale(0.980 1)" font-size="29.2" text-anchor="middle">2400</text>
<text transform="translate(646.6 886.5) scale(0.980 1)" font-size="29.2" text-anchor="middle">2800</text>
<text transform="translate(744.7 886.5) scale(0.980 1)" font-size="29.2" text-anchor="middle">3200</text>
<text transform="translate(842.8 886.5) scale(0.980 1)" font-size="29.2" text-anchor="middle">3600</text>
<text transform="translate(940.8 886.5) scale(0.980 1)" font-size="29.2" text-anchor="middle">4000</text>
<text transform="translate(175.6 282.6) scale(0.985 1)" font-size="29.2">1081</text>
<text transform="translate(183.0 547.5) scale(0.985 1)" font-size="29.2">1081</text>
<text transform="translate(270.5 447.4) scale(0.985 1)" font-size="29.2">1385</text>
<text transform="translate(325.6 461.0) scale(0.985 1)" font-size="29.2">1636</text>
<text transform="translate(326.5 691.6) scale(0.985 1)" font-size="29.2">1636</text>
<text transform="translate(185.0 822.2) scale(0.985 1)" font-size="29.2">1081</text>
<text transform="translate(268.4 266.8) rotate(-90) scale(0.965 1)" font-size="29.2">1236</text>
<text transform="translate(305.1 239.0) rotate(-90) scale(0.965 1)" font-size="29.2">1385</text>
<text transform="translate(367.9 234.9) rotate(-90) scale(0.965 1)" font-size="29.2">1636</text>
<text transform="translate(548.4 248.1) rotate(-90) scale(0.965 1)" font-size="29.2">2362</text>
<text transform="translate(274.8 524.5) rotate(-90) scale(0.965 1)" font-size="29.2">1236</text>
<text transform="translate(137.7 662.0) rotate(-90) scale(0.965 1)" font-size="29.2">733</text>
<text transform="translate(174.8 659.2) rotate(-90) scale(0.965 1)" font-size="29.2">808</text>
<text transform="translate(275.0 812.9) rotate(-90) scale(0.965 1)" font-size="29.2">1226</text>
<text transform="translate(814.2 782.8) rotate(-90) scale(0.965 1)" font-size="29.2">3454</text>
<text transform="translate(863.0 768.7) rotate(-90) scale(0.965 1)" font-size="29.2">3623</text>
<text transform="translate(384.6 956) scale(0.992 1)" font-size="33">Wavenumber (cm<tspan font-size="21.5" dy="-16">-1</tspan><tspan dy="16">)</tspan></text>
<text transform="translate(22.5 558.4) rotate(-90) scale(0.998 1)" font-size="33">Transmattince (a.u)</text>
</g>
</svg>
</body></html>
